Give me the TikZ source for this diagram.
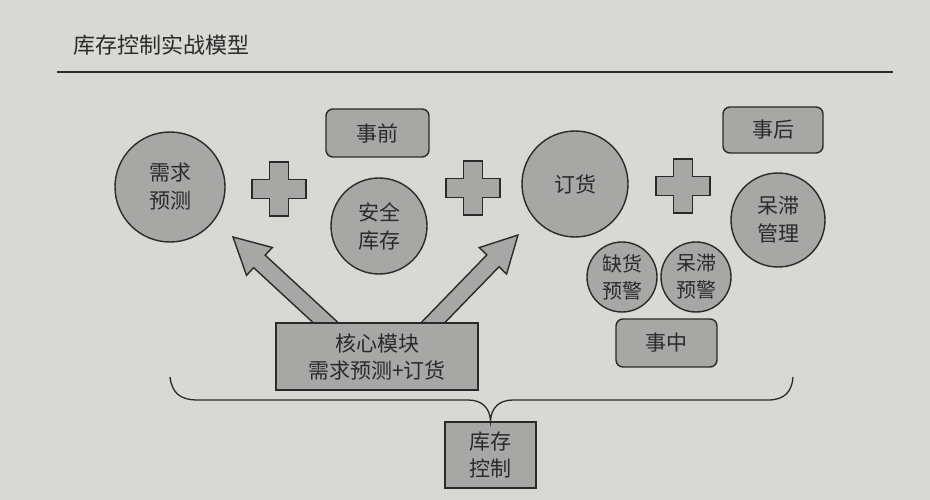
\documentclass[tikz,border=0pt]{standalone}
\usepackage{fontspec}
\newfontfamily\cjk{Noto Sans CJK SC}
\usetikzlibrary{calc}
\definecolor{paper}{HTML}{D8D8D5}
\definecolor{shade}{HTML}{A7A7A5}
\definecolor{ink}{HTML}{2A2A2A}
\newcommand{\fatarrow}[2]{%
  \coordinate (fh) at ($(#2)!36pt!(#1)$);
  \draw[shp,line join=miter] ($(#1)!8.5pt!-90:(#2)$) -- ($(fh)!8.5pt!-90:(#2)$) -- ($(fh)!19pt!-90:(#2)$) -- (#2)
     -- ($(fh)!19pt!90:(#2)$) -- ($(fh)!8.5pt!90:(#2)$) -- ($(#1)!8.5pt!90:(#2)$) -- cycle;}
\newcommand{\plusshape}[1]{%
  \draw[shp,line join=miter] ($(#1)+(-9.5,-27)$) -- ($(#1)+(9.5,-27)$) -- ($(#1)+(9.5,-9.5)$) -- ($(#1)+(27,-9.5)$)
    -- ($(#1)+(27,9.5)$) -- ($(#1)+(9.5,9.5)$) -- ($(#1)+(9.5,27)$) -- ($(#1)+(-9.5,27)$) -- ($(#1)+(-9.5,9.5)$)
    -- ($(#1)+(-27,9.5)$) -- ($(#1)+(-27,-9.5)$) -- ($(#1)+(-9.5,-9.5)$) -- cycle;}
\begin{document}
\begin{tikzpicture}[x=1pt,y=-1pt,
  shp/.style={draw=ink, fill=shade, line width=1.4pt},
  txt/.style={text=ink, align=center, font=\cjk\fontsize{21}{28}\selectfont},
  circ/.style={shp, txt, circle, inner sep=0pt},
  rbox/.style={shp, txt, rounded corners=7pt, inner sep=0pt},
  sbox/.style={shp, txt, inner sep=0pt}]
\useasboundingbox (0,0) rectangle (930,500);
\fill[paper] (0,0) rectangle (930,500);

\node[anchor=west, text=ink, font=\cjk\fontsize{22}{26}\selectfont] (title) at (70,45) {库存控制实战模型};
\draw[ink, line width=1.8pt] (57,72) -- (893,72);

% circles
\node[circ, minimum size=110pt] (xqyc) at (170,187) {需求\\预测};
\node[circ, minimum size=96pt] (aqkc) at (379,226) {安全\\库存};
\node[circ, minimum size=106pt] (dh) at (575,184) {订货};
\node[circ, minimum size=94pt] (dzgl) at (778,220) {呆滞\\管理};
\node[circ, minimum size=70pt, font=\cjk\fontsize{20}{27}\selectfont] (qhyj) at (622,277) {缺货\\预警};
\node[circ, minimum size=70pt, font=\cjk\fontsize{20}{27}\selectfont] (dzyj) at (696,277) {呆滞\\预警};

% plus signs
\coordinate (p1) at (279,189);
\coordinate (p2) at (473,188);
\coordinate (p3) at (683,186);
\plusshape{p1}
\plusshape{p2}
\plusshape{p3}

% rounded labels
\node[rbox, minimum width=103pt, minimum height=48pt] (sq) at (377.5,133) {事前};
\node[rbox, minimum width=100pt, minimum height=46pt] (sh) at (773,130) {事后};
\node[rbox, minimum width=101pt, minimum height=48pt] (sz) at (666.5,343) {事中};

% arrows
\coordinate (tipL) at (233,237);
\coordinate (tipR) at (518,235);
\coordinate (baseL) at (339,335);
\coordinate (baseR) at (421,335);
\fatarrow{baseL}{tipL}
\fatarrow{baseR}{tipR}

% core box
\node[sbox, minimum width=202pt, minimum height=67pt, font=\cjk\fontsize{21}{27}\selectfont] (core) at (377,356.5) {核心模块\\需求预测+订货};

% bottom box
\node[sbox, minimum width=91pt, minimum height=66pt, font=\cjk\fontsize{21}{27}\selectfont] (kckz) at (490.5,455) {库存\\控制};

% brace
\draw[ink, line width=1.3pt] (170,377) .. controls (172,393) and (180,400) .. (198,400) -- (468,400)
  .. controls (482,400) and (490,408) .. (kckz.north)
  .. controls (491,408) and (499,400) .. (513,400) -- (768,400)
  .. controls (784,400) and (792,392) .. (793,377);
\end{tikzpicture}
\end{document}
